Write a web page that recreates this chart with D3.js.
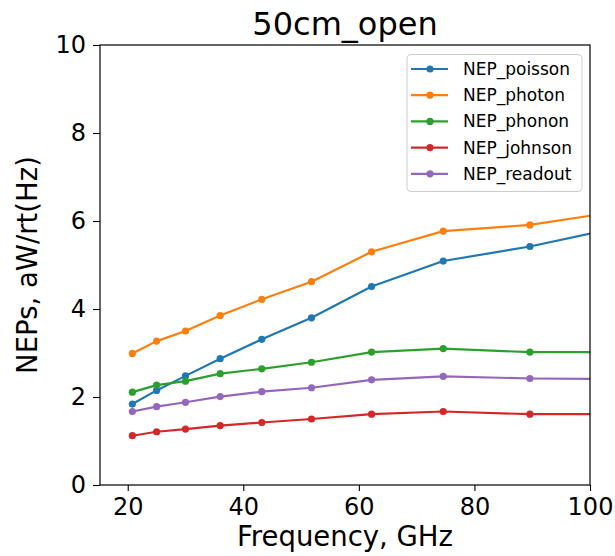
<!DOCTYPE html>
<html><head><meta charset="utf-8">
<script src="https://cdn.jsdelivr.net/npm/d3@7"></script>
<style>body{margin:0;background:#fff}svg{font-family:"DejaVu Sans",sans-serif}</style>
</head><body><svg id="c" width="615" height="556"></svg>
<script>
const freqs = [20.8, 25, 30, 36, 43.2, 51.8, 62.2, 74.6, 89.6, 107.5, 129];
const seriesNames = ["NEP_poisson", "NEP_photon", "NEP_phonon", "NEP_johnson", "NEP_readout"];
const nepPoisson = [1.84, 2.15, 2.48, 2.87, 3.31, 3.80, 4.51, 5.09, 5.42, 5.92, 6.4];
const nepPhoton  = [2.99, 3.27, 3.50, 3.85, 4.22, 4.62, 5.30, 5.77, 5.91, 6.27, 6.6];
const nepPhonon  = [2.11, 2.27, 2.36, 2.53, 2.64, 2.79, 3.02, 3.10, 3.02, 3.02, 3.0];
const nepJohnson = [1.12, 1.21, 1.27, 1.35, 1.42, 1.50, 1.61, 1.67, 1.61, 1.61, 1.6];
const nepReadout = [1.67, 1.78, 1.88, 2.01, 2.12, 2.21, 2.39, 2.47, 2.42, 2.41, 2.38];
const xTicks = [20, 40, 60, 80, 100];
const yTicks = [0, 2, 4, 6, 8, 10];
const colors = ["#1f77b4", "#ff7f0e", "#2ca02c", "#d62728", "#9467bd"];
const titleText = "50cm_open";
const xLabel = "Frequency, GHz";
const yLabel = "NEPs, aW/rt(Hz)";

const values = [nepPoisson, nepPhoton, nepPhonon, nepJohnson, nepReadout];
const svg = d3.select("#c");
const L = 100, R = 590, T = 45, B = 485;
const x = d3.scaleLinear().domain([15.2, 100]).range([L, R]);
const y = d3.scaleLinear().domain([0, 10]).range([B, T]);

svg.append("defs").append("clipPath").attr("id", "clip")
  .append("rect").attr("x", L).attr("y", T).attr("width", R - L).attr("height", B - T);

const g = svg.append("g").attr("clip-path", "url(#clip)");
const line = d3.line().x(d => x(d[0])).y(d => y(d[1]));
values.forEach((vals, i) => {
  const pts = freqs.map((f, j) => [f, vals[j]]);
  g.append("path").datum(pts).attr("d", line).attr("fill", "none")
    .attr("stroke", colors[i]).attr("stroke-width", 2.2).attr("stroke-linejoin", "round");
  g.selectAll(null).data(pts).enter().append("circle")
    .attr("cx", d => x(d[0])).attr("cy", d => y(d[1])).attr("r", 3.6).attr("fill", colors[i]);
});

// axes
const xAxis = svg.append("g").attr("transform", `translate(0,${B})`)
  .call(d3.axisBottom(x).tickValues(xTicks).tickSize(6).tickPadding(6).tickFormat(d3.format("d")));
const yAxis = svg.append("g").attr("transform", `translate(${L},0)`)
  .call(d3.axisLeft(y).tickValues(yTicks).tickSize(7).tickPadding(7).tickFormat(d3.format("d")));
[xAxis, yAxis].forEach(a => {
  a.select(".domain").remove();
  a.selectAll("line").attr("stroke", "#000").attr("stroke-width", 1.1);
  a.selectAll("text").attr("font-size", 24).attr("fill", "#000").attr("font-family", "DejaVu Sans");
});
xAxis.selectAll("text").attr("dy", "0.75em");

svg.append("rect").attr("x", L).attr("y", T).attr("width", R - L).attr("height", B - T)
  .attr("fill", "none").attr("stroke", "#000").attr("stroke-width", 1.2);

svg.append("text").attr("x", (L + R) / 2).attr("y", 35).attr("text-anchor", "middle")
  .attr("font-size", 32).text(titleText);
svg.append("text").attr("x", (L + R) / 2).attr("y", 546).attr("text-anchor", "middle")
  .attr("font-size", 27.5).text(xLabel);
svg.append("text").attr("transform", `translate(37,${(T + B) / 2}) rotate(-90)`)
  .attr("text-anchor", "middle").attr("font-size", 27.5).text(yLabel);

// legend
const lg = svg.append("g");
lg.append("rect").attr("x", 407).attr("y", 54.5).attr("width", 175).attr("height", 137)
  .attr("rx", 4).attr("fill", "#fff").attr("fill-opacity", 0.8).attr("stroke", "#ccc").attr("stroke-width", 1);
seriesNames.forEach((name, i) => {
  const yy = 69 + i * 26.2;
  lg.append("line").attr("x1", 411).attr("x2", 448).attr("y1", yy).attr("y2", yy)
    .attr("stroke", colors[i]).attr("stroke-width", 2.2);
  lg.append("circle").attr("cx", 430).attr("cy", yy).attr("r", 3.6).attr("fill", colors[i]);
  lg.append("text").attr("x", 463).attr("y", yy).attr("dy", "0.35em").attr("font-size", 17).text(name);
});
</script></body></html>
